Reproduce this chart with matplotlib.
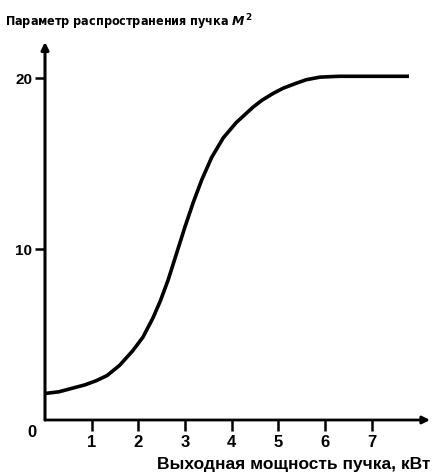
import matplotlib.pyplot as plt

plt.rcParams['font.family'] = ['Liberation Sans', 'DejaVu Sans']
plt.rcParams['font.weight'] = 'bold'
plt.rcParams['mathtext.fontset'] = 'custom'
plt.rcParams['mathtext.it'] = 'DejaVu Sans:italic:bold'
plt.rcParams['mathtext.rm'] = 'DejaVu Sans:bold'

# M^2 vs output power
power = [0, 0.3, 0.6, 0.85, 1.1, 1.33, 1.6, 1.88, 2.1, 2.31, 2.47, 2.64, 2.82, 3.0,
         3.18, 3.36, 3.57, 3.82, 4.1, 4.3, 4.46, 4.65, 4.89, 5.1, 5.39, 5.6, 5.89,
         6.3, 7.8]
m2 = [1.55, 1.65, 1.87, 2.05, 2.3, 2.6, 3.2, 4.05, 4.85, 5.95, 6.95, 8.2, 9.75, 11.3,
      12.75, 14.05, 15.35, 16.5, 17.4, 17.9, 18.3, 18.7, 19.1, 19.4, 19.7, 19.9, 20.05,
      20.1, 20.1]

x_ticks = [1, 2, 3, 4, 5, 6, 7]
y_ticks = [10, 20]
y_top = 378 / 17.1

fig = plt.figure(figsize=(4.32, 4.74), dpi=100)
ax = fig.add_axes([45 / 432, 54 / 474, 385 / 432, 378 / 474])
ax.set_xlim(0, 8.25)
ax.set_ylim(0, y_top)

for s in ax.spines.values():
    s.set_visible(False)

ax.plot(power, m2, color='black', lw=2.6, solid_capstyle='butt', solid_joinstyle='round')

# axes with arrows
ax.annotate('', xy=(8.25, 0), xytext=(0, 0), annotation_clip=False,
            arrowprops=dict(arrowstyle='-|>', lw=2.0, color='black',
                            mutation_scale=11, shrinkA=0, shrinkB=0))
ax.annotate('', xy=(0, y_top), xytext=(0, 0), annotation_clip=False,
            arrowprops=dict(arrowstyle='-|>', lw=2.2, color='black',
                            mutation_scale=11, shrinkA=0, shrinkB=0))

ax.set_xticks(x_ticks)
ax.set_xticklabels([str(t) for t in x_ticks])
ax.set_yticks(y_ticks)
ax.set_yticklabels([str(t) for t in y_ticks])
ax.tick_params(axis='x', direction='out', length=8, width=1.8, pad=3, labelsize=12)
ax.tick_params(axis='y', direction='out', length=7, width=1.8, pad=2, labelsize=11)

ax.text(-0.27, -0.75, '0', ha='center', va='center', fontsize=12, fontweight='bold')

fig.text(5 / 432, 1 - 22 / 474, r'Параметр распространения пучка $M^2$',
         ha='left', va='center', fontsize=9, fontweight='bold',
         family=['DejaVu Sans'], fontstretch='condensed')
fig.text(430 / 432, 1 - 465 / 474, 'Выходная мощность пучка, кВт',
         ha='right', va='center', fontsize=12.5, fontweight='bold')

fig.savefig('out.png', dpi=100)
